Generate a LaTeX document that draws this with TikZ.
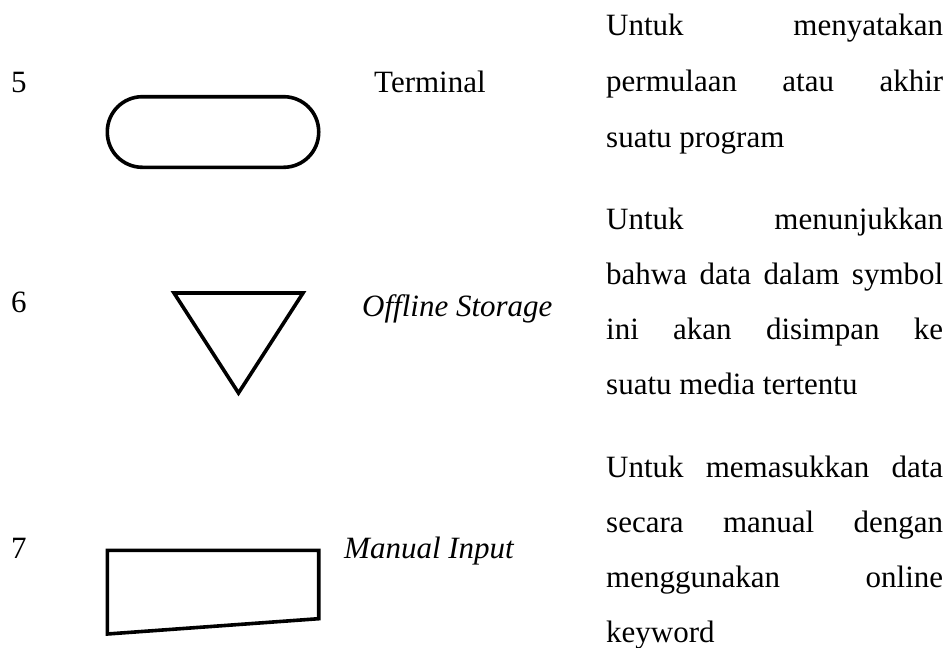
\documentclass[tikz,border=0pt]{standalone}
\usepackage{fontspec}
\setmainfont{Liberation Serif}
\begin{document}
\begin{tikzpicture}[x=1pt,y=-1pt,
  shp/.style={draw=black, line width=3.6pt, fill=white},
  txt/.style={anchor=base west, inner sep=0pt, font=\fontsize{31}{31}\selectfont},
  itx/.style={txt, font=\fontsize{31}{31}\selectfont\itshape}]
\useasboundingbox[fill=white] (0,0) rectangle (951,648);
% numbers
\node[txt] (n5) at (11,92) {5};
\node[txt] (n6) at (11,312) {6};
\node[txt] (n7) at (11,558) {7};
% symbols
\draw[shp, rounded corners=35pt] (107.3,96.7) rectangle (318.7,167.3);
\draw[shp] (174,293) -- (303,293) -- (238.5,393) -- cycle;
\draw[shp] (107.3,550.3) -- (318.7,550.3) -- (318.7,618.7) -- (107.3,634) -- cycle;
% names
\node[txt] (t5) at (374,92) {Terminal};
\node[itx] (t6) at (362,316) {Offline Storage};
\node[itx] (t7) at (344,558) {Manual Input};
% descriptions
\node[txt] (d1a) at (606,35) {\makebox[337pt][s]{Untuk menyatakan}};
\node[txt] (d1b) at (606,91) {\makebox[337pt][s]{permulaan atau akhir}};
\node[txt] (d1c) at (606,147) {suatu program};
\node[txt] (d2a) at (606,229) {\makebox[337pt][s]{Untuk menunjukkan}};
\node[txt] (d2b) at (606,284) {\makebox[337pt][s]{bahwa data dalam symbol}};
\node[txt] (d2c) at (606,339) {\makebox[337pt][s]{ini akan disimpan ke}};
\node[txt] (d2d) at (606,394) {suatu media tertentu};
\node[txt] (d3a) at (606,477) {\makebox[337pt][s]{Untuk memasukkan data}};
\node[txt] (d3b) at (606,532) {\makebox[337pt][s]{secara manual dengan}};
\node[txt] (d3c) at (606,587) {\makebox[337pt][s]{menggunakan online}};
\node[txt] (d3d) at (606,642) {keyword};
\end{tikzpicture}
\end{document}
